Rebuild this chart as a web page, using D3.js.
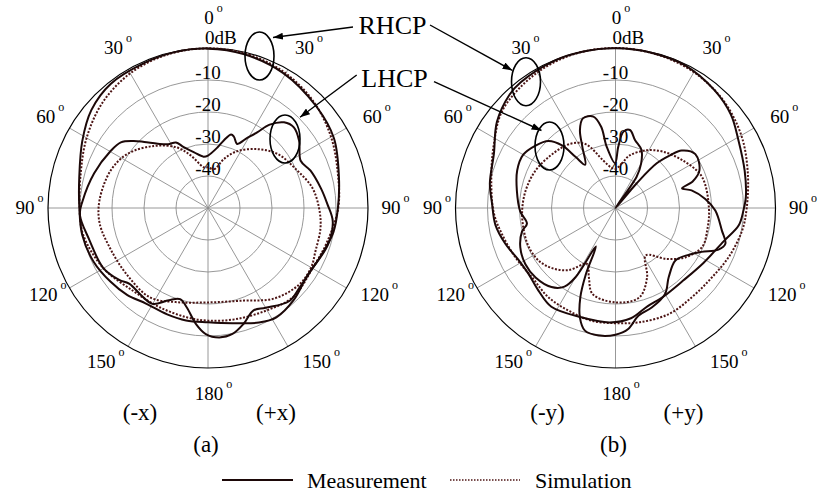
<!DOCTYPE html>
<html>
<head>
<meta charset="utf-8">
<script src="https://cdn.jsdelivr.net/npm/d3@7"></script>
<style>
  body { margin: 0; background: #fff; }
  svg { display: block; font-family: "Liberation Serif", "Times New Roman", serif; }
</style>
</head>
<body>
<svg id="chart" width="818" height="492"></svg>
<script>
// [angle in degrees, clockwise from top; level in dB]
// (a) x-z plane
const aRhcpMeas = [[0,-0.2],[13,-0.6],[29,-1.7],[47,-3.6],[61,-5.0],[77,-8.0],[90,-9.4],[101,-10.1],[114,-11.8],[125,-12.4],[137,-10.7],[148,-9.7],[156,-10.8],[168,-13.2],[180,-14.3],[191,-14.2],[201,-14.4],[213,-14.4],[223,-12.9],[233,-11.8],[245,-10.5],[258,-9.8],[270,-9.8],[283,-8.7],[298,-5.5],[310,-2.4],[322,-0.7],[336,-0.5],[348,-0.2]];
const aLhcpMeas = [[0,-33.6],[9,-30.8],[13,-28.4],[17.5,-25.9],[20,-26.3],[24.5,-28],[28.5,-25.5],[33,-21.8],[36.5,-17.6],[41.6,-14.2],[46.8,-13.2],[53.5,-14.6],[63,-17.5],[70,-15.9],[80,-14.2],[88,-12.7],[96,-10.8],[107,-10.8],[120,-12.3],[131,-12.1],[139,-11.4],[150,-14],[156,-15],[163,-12.1],[169,-9.9],[175,-9.4],[181,-10.6],[186,-13.6],[192,-18.2],[197,-20.2],[203,-18.7],[210,-15.4],[218,-15.7],[226,-15.9],[231,-14.3],[240,-12.3],[255,-11.6],[267,-9.9],[273,-10.7],[287,-12.8],[300,-14.7],[307,-15.9],[312,-18.7],[316,-21.3],[322,-24.5],[328,-26.5],[334,-27.2],[338,-29.4],[346,-32.1],[355,-33.9]];
const aRhcpSim = [[0,-0.1],[15,-0.4],[30,-1.4],[45,-3.2],[60,-5.6],[75,-8.0],[90,-9.3],[107,-11.4],[119,-12.3],[136,-11.5],[150,-13.1],[166,-14.2],[180,-14.8],[191,-15.2],[206,-15.5],[222,-15.1],[240,-12.3],[258,-10.1],[270,-9.9],[285,-8.8],[300,-6.2],[315,-3.4],[330,-1.4],[345,-0.4]];
const aLhcpSim = [[0,-37.3],[9,-37.7],[18,-33.9],[27,-30.1],[40,-26],[52,-22.5],[67,-19.8],[79,-16.8],[90,-15.3],[100,-14.3],[112,-13.8],[120,-12.8],[130,-12.8],[144,-15],[159,-19],[180,-20.5],[199,-18.9],[213,-16.7],[231,-17.2],[248,-16.9],[262,-15.8],[274,-16],[291,-17.4],[304,-19.7],[319,-24.3],[333,-28.8],[342,-32.8],[354,-37.2]];

// (b) y-z plane
const bRhcpMeas = [[0,-0.1],[13,-0.2],[26,-0.4],[40,-1.9],[51,-3.6],[61,-6.1],[74,-8.0],[85,-9.1],[91,-10.0],[98,-11.1],[107,-14.6],[122,-17.6],[137,-19.0],[152,-18.5],[162,-17.7],[172,-15.2],[183,-14.2],[198,-14.2],[213,-13.2],[223,-14.7],[233,-15.9],[242,-15.6],[252,-13.8],[262,-12.1],[272,-11.4],[281,-10.0],[294,-8.4],[306,-4.2],[317,-1.5],[323,-0.8],[337,-0.2],[348,-0.1]];
const bLhcpMeas = [[2.6,-30.8],[6,-26],[10.5,-25.2],[16,-27.9],[24,-30.1],[30,-34],[34,-38.2],[37,-50],[40.6,-39.8],[42.7,-31],[46,-26.3],[49,-22.6],[56,-19.9],[66,-21.3],[71,-24.5],[73.5,-28.3],[77,-25.6],[84.3,-21.8],[91.5,-18.8],[102,-16],[108,-13.9],[112,-15.3],[117,-19.8],[122,-22.6],[131,-25.1],[142.5,-22.7],[150,-19],[160,-16.9],[168,-15.6],[174,-12],[180,-10.4],[187.5,-9.8],[194,-10.5],[198,-14],[201.5,-20],[204,-27],[207,-36.5],[210,-25],[213,-20.7],[219,-18.2],[229,-16.9],[238,-16.8],[247.5,-17.8],[256,-19.9],[260,-21.9],[268,-20.2],[280,-18.7],[291,-17.1],[300,-16.7],[308,-18.3],[315,-20.4],[319.5,-24.3],[322,-29.8],[325,-33.5],[331.6,-28.2],[335.5,-23.2],[340,-20.2],[346.4,-20.6],[350,-24.2],[351.8,-30.6],[359.4,-36]];
const bRhcpSim = [[0,0],[15,-0.3],[30,-1.0],[45,-2.4],[60,-4.6],[75,-7.2],[90,-9.0],[100,-9.8],[113,-11.4],[126,-12.9],[139,-13.3],[153,-12.9],[168,-13.5],[180,-14],[192,-14],[204,-14.7],[217,-15.1],[230,-16.1],[244,-15.1],[257,-13.6],[268,-11.9],[284,-10],[298,-7],[311,-3.3],[329,-1.2],[345,-0.2]];
const bLhcpSim = [[0,-37.8],[8,-36],[15,-33],[28,-29.6],[40,-27],[55,-24.2],[70,-21.3],[90,-20.8],[104,-20.5],[114,-20.3],[125,-23.2],[135,-27.5],[147.5,-32.4],[155.5,-26.2],[165,-21.1],[180,-20.5],[195,-22.2],[201,-26.8],[207,-30.4],[217,-25.7],[226.5,-22.7],[235.5,-20.9],[245.6,-20.3],[256,-20.5],[268,-20.8],[281,-21.4],[295,-22.4],[310,-24],[325,-25.5],[335,-28],[345.6,-34.7],[354,-37.3]];

const ringLevels = [-40, -30, -20, -10];
const ringText = ["-40", "-30", "-20", "-10"];
const spokeAngles = d3.range(0, 360, 30);
const angleText = ["0", "30", "60", "90", "120", "150", "180", "150", "120", "90", "60", "30"];
const sideText = [["(-x)", "(+x)"], ["(-y)", "(+y)"]];
const panelText = ["(a)", "(b)"];
const legendText = ["Measurement", "Simulation"];

// layout
const R = 160;
const labelAng = [0, 30.7, 60.8, 90, 117.5, 145, 180, 215, 242.5, 270, 299.2, 329.3];
const labelRad = [190, 187, 187, 182, 187, 188, 186, 188, 187, 184, 187, 187];
const solidColor = "#1c0808";
const dotColor = "#4d1515";

const svg = d3.select("#chart");
const r = d3.scaleLinear().domain([-50, 0]).range([0, R]).clamp(true);
const rad = d => d * Math.PI / 180;

const line = d3.lineRadial()
  .angle(d => rad(d[0]))
  .radius(d => r(d[1]))
  .curve(d3.curveCatmullRomClosed.alpha(0.5));

const panels = [
  { cx: 208, cy: 208, meas: [aRhcpMeas, aLhcpMeas], sim: [aRhcpSim, aLhcpSim] },
  { cx: 615.5, cy: 208, meas: [bRhcpMeas, bLhcpMeas], sim: [bRhcpSim, bLhcpSim] }
];

panels.forEach((p, pi) => {
  const g = svg.append("g").attr("transform", `translate(${p.cx},${p.cy})`);

  // grid rings
  g.selectAll("circle.ring")
    .data(ringLevels)
    .enter().append("circle")
    .attr("r", d => r(d))
    .attr("fill", "none")
    .attr("stroke", "#8c8c8c")
    .attr("stroke-width", 0.9);

  // spokes
  g.selectAll("line.spoke")
    .data(spokeAngles)
    .enter().append("line")
    .attr("x1", 0).attr("y1", 0)
    .attr("x2", d => r(0) * Math.sin(rad(d)))
    .attr("y2", d => -r(0) * Math.cos(rad(d)))
    .attr("stroke", "#8c8c8c")
    .attr("stroke-width", 0.9);

  // 0 dB circle
  g.append("circle")
    .attr("r", r(0))
    .attr("fill", "none")
    .attr("stroke", "#000")
    .attr("stroke-width", 1.2);

  // ring labels
  g.selectAll("text.ring")
    .data(ringLevels)
    .enter().append("text")
    .attr("x", 0)
    .attr("y", d => -r(d) - 1)
    .attr("text-anchor", "middle")
    .attr("font-size", 19)
    .text((d, i) => ringText[i]);

  g.append("text")
    .attr("x", -3)
    .attr("y", -r(0) - 4)
    .attr("font-size", 19)
    .text("0dB");

  // curves
  p.sim.forEach(s => {
    g.append("path")
      .attr("d", line(s))
      .attr("fill", "none")
      .attr("stroke", dotColor)
      .attr("stroke-width", 2)
      .attr("stroke-dasharray", "2 1.6");
  });
  p.meas.forEach(s => {
    g.append("path")
      .attr("d", line(s))
      .attr("fill", "none")
      .attr("stroke", solidColor)
      .attr("stroke-width", 2);
  });

  // angle labels with superscript degree
  spokeAngles.forEach((a, i) => {
    const la = rad(labelAng[i]);
    const x = labelRad[i] * Math.sin(la) + 1;
    const y = -labelRad[i] * Math.cos(la) + 6.4;
    const t = g.append("text")
      .attr("x", x).attr("y", y)
      .attr("text-anchor", "middle")
      .attr("font-size", 19)
      .text(angleText[i]);
    const w = t.node().getComputedTextLength();
    g.append("text")
      .attr("x", x + w / 2 + 3)
      .attr("y", y - 12)
      .attr("font-size", 12)
      .text("o");
  });

  // side and panel labels
  g.append("text").attr("x", -68).attr("y", 212)
    .attr("text-anchor", "middle").attr("font-size", 23)
    .text(sideText[pi][0]);
  g.append("text").attr("x", 68).attr("y", 212)
    .attr("text-anchor", "middle").attr("font-size", 23)
    .text(sideText[pi][1]);
  g.append("text").attr("x", -2).attr("y", 244)
    .attr("text-anchor", "middle").attr("font-size", 23)
    .text(panelText[pi]);
});

// callouts
const defs = svg.append("defs");
defs.append("marker")
  .attr("id", "head")
  .attr("viewBox", "0 0 10 7")
  .attr("refX", 10).attr("refY", 3.5)
  .attr("markerWidth", 10).attr("markerHeight", 7)
  .attr("markerUnits", "userSpaceOnUse")
  .attr("orient", "auto")
  .append("path").attr("d", "M0,0L10,3.5L0,7z").attr("fill", "#000");

const callouts = [
  { text: "RHCP", x: 392.5, y: 34, marks: [
    { e: [259.5, 56, 14.5, 24], from: [353, 27], to: [273, 37.5] },
    { e: [526, 81.7, 14.5, 24], from: [430, 25], to: [512.5, 70.5] } ] },
  { text: "LHCP", x: 394.5, y: 87, marks: [
    { e: [285, 139, 15, 24], from: [356.7, 75], to: [300, 117.3] },
    { e: [549.5, 146, 14.5, 24], from: [434, 81.7], to: [541.5, 130.5] } ] }
];

callouts.forEach(c => {
  svg.append("text")
    .attr("x", c.x).attr("y", c.y)
    .attr("text-anchor", "middle")
    .attr("font-size", 26)
    .text(c.text);
  c.marks.forEach(m => {
    svg.append("ellipse")
      .attr("cx", m.e[0]).attr("cy", m.e[1])
      .attr("rx", m.e[2]).attr("ry", m.e[3])
      .attr("fill", "none")
      .attr("stroke", "#000")
      .attr("stroke-width", 1.6);
    svg.append("line")
      .attr("x1", m.from[0]).attr("y1", m.from[1])
      .attr("x2", m.to[0]).attr("y2", m.to[1])
      .attr("stroke", "#000")
      .attr("stroke-width", 1.4)
      .attr("marker-end", "url(#head)");
  });
});

// legend
const legend = svg.append("g");
legend.append("line")
  .attr("x1", 222).attr("x2", 293).attr("y1", 480).attr("y2", 480)
  .attr("stroke", solidColor).attr("stroke-width", 2);
legend.append("text")
  .attr("x", 307).attr("y", 488).attr("font-size", 22)
  .text(legendText[0]);
legend.append("line")
  .attr("x1", 450).attr("x2", 520).attr("y1", 480).attr("y2", 480)
  .attr("stroke", dotColor).attr("stroke-width", 1.4)
  .attr("stroke-dasharray", "1.5 1.5");
legend.append("text")
  .attr("x", 535).attr("y", 488).attr("font-size", 22)
  .text(legendText[1]);
</script>
</body>
</html>
